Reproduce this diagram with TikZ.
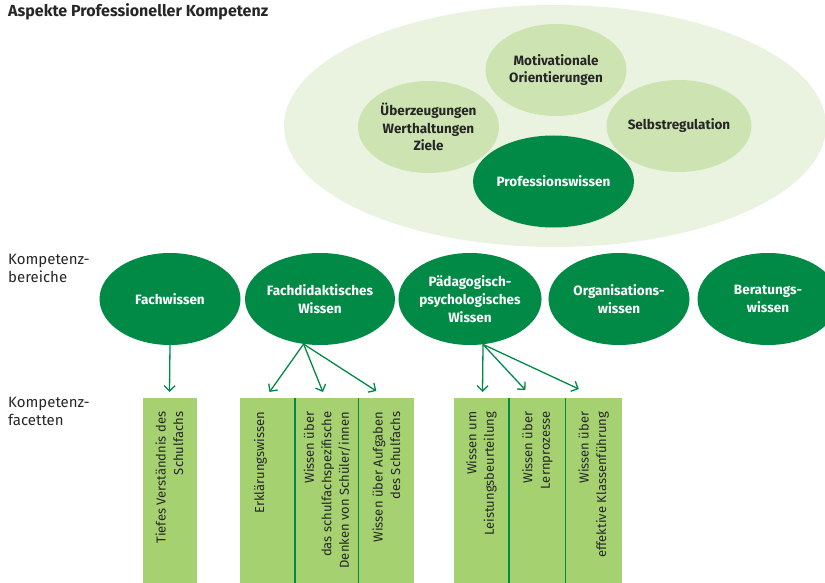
\documentclass[tikz,border=0pt]{standalone}
\usepackage{fontspec}
\setmainfont{Fira Sans}
\usetikzlibrary{shapes.geometric,arrows.meta,positioning}

\definecolor{aussen}{HTML}{E9F3E0}
\definecolor{innen}{HTML}{CDE4B2}
\definecolor{dunkel}{HTML}{008A45}
\definecolor{facette}{HTML}{A5D170}
\definecolor{schrift}{HTML}{262626}

\tikzset{
  aspekt/.style={ellipse, fill=innen, text=schrift, minimum width=141pt, minimum height=92pt, inner sep=0pt, align=center, font=\bfseries\fontsize{13.5}{17.7}\selectfont},
  bereich/.style={aspekt, fill=dunkel, text=white},
  facettbox/.style={fill=facette, minimum height=185pt, inner sep=0pt, anchor=north},
  facetttext/.style={rotate=90, anchor=east, align=right, text=schrift, inner sep=0pt, font=\fontsize{13}{17.5}\selectfont},
  pfeil/.style={draw=dunkel, line width=1.3pt, -{Straight Barb[length=5.5pt,width=11pt]}},
  trenner/.style={draw=dunkel, line width=1.5pt},
  zeile/.style={anchor=north west, align=left, inner sep=0pt, text=schrift, font=\fontsize{15}{18}\selectfont}
}

\begin{document}
\begin{tikzpicture}[x=1pt, y=-1pt]
 \useasboundingbox (0,0) rectangle (825,583);

 %Titel und Zeilen
 \node[zeile, font=\bfseries\fontsize{16}{19}\selectfont] (titel) at (8,3) {Aspekte Professioneller Kompetenz};
 \node[zeile] (bereiche) at (8,254) {Kompetenz-\\bereiche};
 \node[zeile] (facetten) at (8,397) {Kompetenz-\\facetten};

 %Aspekte
 \node[ellipse, fill=aussen, minimum width=542pt, minimum height=242pt, inner sep=0pt] (aspekte) at (555,126) {};
 \node[aspekt] (motiv) at (556,70) {Motivationale\\Orientierungen};
 \node[aspekt] (ueberz) at (428.5,127) {Überzeugungen\\Werthaltungen\\Ziele};
 \node[aspekt] (selbst) at (679,126) {Selbstregulation};
 \node[bereich] (prof) at (553.5,181.5) {Professionswissen};

 %Kompetenzbereiche
 \node[bereich] (fach) at (170,299) {Fachwissen};
 \node[bereich] (fd) at (320,299) {Fachdidaktisches\\Wissen};
 \node[bereich] (pp) at (470,299) {Pädagogisch-\\psychologisches\\Wissen};
 \node[bereich] (orga) at (619,299) {Organisations-\\wissen};
 \node[bereich] (berat) at (768,299) {Beratungs-\\wissen};

 %Kompetenzfacetten
 \node[facettbox, minimum width=54pt] (tiefes) at (169.5,398) {};
 \node[facettbox, minimum width=55pt] (erkl) at (267.5,398) {};
 \node[facettbox, minimum width=63pt, right=0pt of erkl] (denken) {};
 \node[facettbox, minimum width=55pt, right=0pt of denken] (aufgaben) {};
 \node[facettbox, minimum width=55pt] (leistung) at (481.5,398) {};
 \node[facettbox, minimum width=56pt, right=0pt of leistung] (lern) {};
 \node[facettbox, minimum width=56pt, right=0pt of lern] (klasse) {};

 \draw[trenner] (erkl.north east) -- (erkl.south east);
 \draw[trenner] (denken.north east) -- (denken.south east);
 \draw[trenner] (leistung.north east) -- (leistung.south east);
 \draw[trenner] (lern.north east) -- (lern.south east);

 \node[facetttext] (t-tiefes) at ([yshift=-13.5pt]tiefes.north) {Tiefes Verständnis des\\Schulfachs};
 \node[facetttext] (t-erkl) at ([xshift=-7pt,yshift=-13.5pt]erkl.north) {Erklärungswissen};
 \node[facetttext] (t-denken) at ([yshift=-13.5pt]denken.north) {Wissen über\\das schulfachspezifische\\Denken von Schüler/innen};
 \node[facetttext] (t-aufgaben) at ([yshift=-13.5pt]aufgaben.north) {Wissen über Aufgaben\\des Schulfachs};
 \node[facetttext] (t-leistung) at ([yshift=-13.5pt]leistung.north) {Wissen um\\Leistungsbeurteilung};
 \node[facetttext] (t-lern) at ([yshift=-13.5pt]lern.north) {Wissen über\\Lernprozesse};
 \node[facetttext] (t-klasse) at ([yshift=-13.5pt]klasse.north) {Wissen über\\effektive Klassenführung};

 %Pfeile
 \draw[pfeil] (fach.south) -- ([yshift=6pt]tiefes.north);
 \draw[pfeil] (fd.250) -- ([xshift=2pt,yshift=6pt]erkl.north);
 \draw[pfeil] (fd.250) -- ([xshift=-4pt,yshift=6pt]denken.north);
 \draw[pfeil] (fd.250) -- ([xshift=-10pt,yshift=7pt]aufgaben.north);
 \draw[pfeil] (pp.286) -- ([xshift=1pt,yshift=6pt]leistung.north);
 \draw[pfeil] (pp.286) -- ([xshift=-12pt,yshift=8pt]lern.north);
 \draw[pfeil] (pp.286) -- ([xshift=-15pt,yshift=9pt]klasse.north);

\end{tikzpicture}
\end{document}
